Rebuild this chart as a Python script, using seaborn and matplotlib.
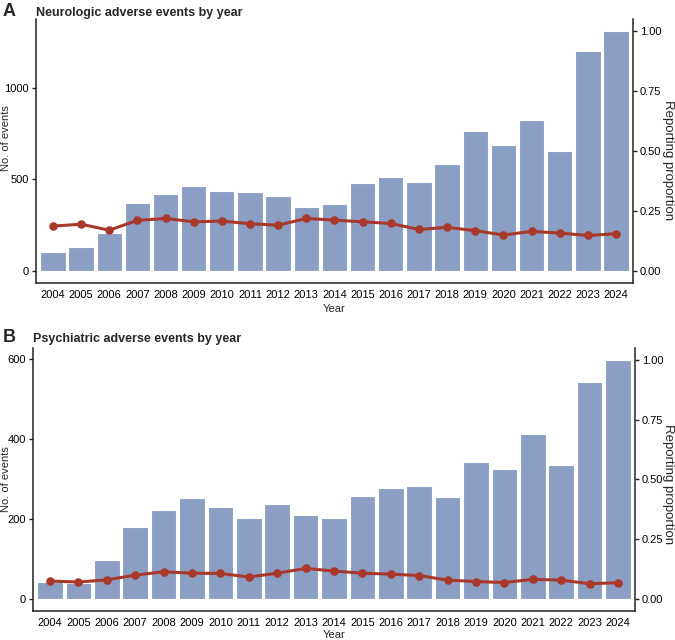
import numpy as np
import pandas as pd
import matplotlib
matplotlib.use("Agg")
import matplotlib.pyplot as plt
from matplotlib.ticker import MultipleLocator, FormatStrFormatter
import seaborn as sns

# ---------------------------------------------------------------------------
# data
# ---------------------------------------------------------------------------
years = [str(y) for y in range(2004, 2025)]

neuro_counts = [102, 127, 205, 369, 420, 465, 433, 429, 407, 349, 364,
                478, 513, 485, 582, 765, 686, 822, 651, 1199, 1309]
neuro_prop = [0.186, 0.194, 0.169, 0.210, 0.218, 0.204, 0.207, 0.196, 0.190,
              0.218, 0.211, 0.204, 0.197, 0.172, 0.181, 0.167, 0.149, 0.164,
              0.157, 0.147, 0.154]

psych_counts = [41, 40, 98, 179, 222, 251, 230, 203, 236, 210, 203,
                258, 278, 283, 255, 343, 324, 413, 334, 543, 598]
psych_prop = [0.074, 0.070, 0.079, 0.099, 0.113, 0.107, 0.106, 0.091, 0.107,
              0.127, 0.116, 0.107, 0.103, 0.097, 0.078, 0.072, 0.068, 0.081,
              0.078, 0.063, 0.067]

titles = ["Neurologic adverse events by year", "Psychiatric adverse events by year"]
letters = ["A", "B"]

# ---------------------------------------------------------------------------
# style
# ---------------------------------------------------------------------------
sns.set_style("white")
plt.rcParams["font.family"] = ["Liberation Sans", "DejaVu Sans"]
plt.rcParams["axes.linewidth"] = 1.1
plt.rcParams["xtick.major.width"] = 1.0
plt.rcParams["ytick.major.width"] = 1.0
plt.rcParams["xtick.major.size"] = 3
plt.rcParams["ytick.major.size"] = 3

bar_col = "#8B9EC4"
line_col = "#A8382A"
axis_col = "#222222"


def panel(ax, counts, props, title, step, title_pad, xlab_pad, ylab_xy, rlab_xy):
    df = pd.DataFrame({"year": years, "count": counts, "prop": props})
    top = max(counts)

    sns.barplot(data=df, x="year", y="count", color=bar_col, saturation=1,
                width=0.9, edgecolor="white", linewidth=0.8, ax=ax)
    ax.set_ylim(-0.05 * top, 1.05 * top)
    ax.yaxis.set_major_locator(MultipleLocator(step))

    ax2 = ax.twinx()
    sns.pointplot(data=df, x="year", y="prop", color=line_col, errorbar=None,
                  markers="o", markersize=4.5, linewidth=2.2, ax=ax2)
    ax2.set_ylim(-0.05, 1.05)
    ax2.yaxis.set_major_locator(MultipleLocator(0.25))
    ax2.yaxis.set_major_formatter(FormatStrFormatter("%.2f"))
    ax.set_xlim(-0.6, len(years) - 0.4)

    for s in ["top", "right"]:
        ax.spines[s].set_visible(False)
    for s in ["top", "left", "bottom"]:
        ax2.spines[s].set_visible(False)
    for a in (ax, ax2):
        for s in a.spines.values():
            s.set_color(axis_col)
        a.tick_params(labelsize=8, colors=axis_col, labelcolor="black", pad=2)

    ax.set_xlabel("Year", fontsize=8, labelpad=xlab_pad)
    ax.set_ylabel("No. of events", fontsize=8)
    ax.yaxis.set_label_coords(*ylab_xy)
    ax2.set_ylabel("Reporting proportion", fontsize=9.5, rotation=-90,
                   va="center", ha="center")
    ax2.yaxis.set_label_coords(*rlab_xy)
    ax.set_title(title, loc="left", fontsize=9, fontweight="bold", pad=title_pad)


fig = plt.figure(figsize=(6.75, 6.4), dpi=100)
ax_a = fig.add_axes([0.0533, 0.5583, 0.8844, 0.412])
ax_b = fig.add_axes([0.0489, 0.0458, 0.8919, 0.4105])

panel(ax_a, neuro_counts, neuro_prop, titles[0], 500, 2, 3,
      (-0.042, 0.55), (1.0586, 0.466))
panel(ax_b, psych_counts, psych_prop, titles[1], 200, 4.5, 1.5,
      (-0.0365, 0.5), (1.0548, 0.483))

fig.text(0.004, 1 - 16 / 640, letters[0], fontsize=13, fontweight="bold", va="baseline")
fig.text(0.004, 1 - 342.5 / 640, letters[1], fontsize=13, fontweight="bold", va="baseline")

fig.savefig("out.png", dpi=100)
